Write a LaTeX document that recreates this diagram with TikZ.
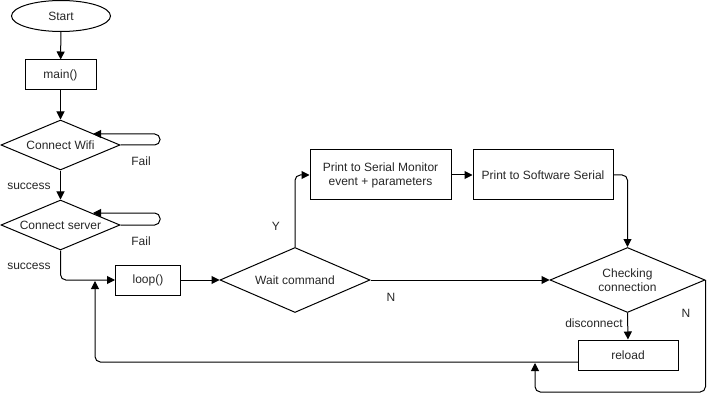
\documentclass[tikz,border=0pt]{standalone}
\usepackage{fontspec}
\setmainfont{Liberation Sans}
\usetikzlibrary{shapes.geometric,arrows.meta}
\begin{document}
\begin{tikzpicture}[x=0.75pt,y=-0.75pt,
  font=\fontsize{9}{10.5}\selectfont, text=black!85,
  every path/.style={line width=0.75pt},
  box/.style={draw, rectangle, inner sep=0pt, align=center},
  dec/.style={draw, diamond, inner sep=0pt, align=center},
  arr/.style={-{Triangle[length=6pt,width=6pt]}},
  rc/.style={rounded corners=4pt},
  lbl/.style={inner sep=0pt, align=center}]
\useasboundingbox (0,0) rectangle (715,410);

\node[draw, ellipse, inner sep=0pt, minimum width=99*0.75pt, minimum height=31*0.75pt] (start) at (61,16) {Start};
\node[box, minimum width=71*0.75pt, minimum height=30*0.75pt] (main) at (60.5,75) {main()};
\node[dec, minimum width=119*0.75pt, minimum height=50*0.75pt] (wifi) at (60.5,145) {};
\node[lbl] at (wifi.center) {Connect Wifi};
\node[dec, minimum width=119*0.75pt, minimum height=50*0.75pt] (server) at (60.5,225) {};
\node[lbl] at (server.center) {Connect server};
\node[box, minimum width=65*0.75pt, minimum height=30*0.75pt] (loop) at (148,280) {loop()};
\node[dec, minimum width=150*0.75pt, minimum height=65*0.75pt] (wait) at (295,280) {};
\node[lbl] at (wait.center) {Wait command};
\node[box, minimum width=141*0.75pt, minimum height=50*0.75pt] (psm) at (380.5,175) {Print to Serial Monitor\\event + parameters};
\node[box, minimum width=140*0.75pt, minimum height=50*0.75pt] (pss) at (543,175) {Print to Software Serial};
\node[dec, minimum width=155*0.75pt, minimum height=65*0.75pt] (check) at (627.5,280) {};
\node[lbl] at (check.center) {Checking\\connection};
\node[box, minimum width=100*0.75pt, minimum height=30*0.75pt] (reload) at (628,355) {reload};

\coordinate (wl) at (93,134);
\coordinate (sl) at (93,213);
\coordinate (ret) at (578,362);
\coordinate (lp) at (95,281);
\coordinate (rl) at (535,363);

\draw[arr] (start) -- (main);
\draw[arr] (main) -- (wifi);
\draw[arr] (wifi) -- (server);
\draw[arr, rc] (wifi.east) -- (160,145) -- (160,134) -- (wl);
\draw[arr, rc] (server.east) -- (160,225) -- (160,213) -- (sl);
\draw[arr, rc] (server.south) |- (loop.west);
\draw[arr] (loop) -- (wait);
\draw[arr, rc] (wait.north) |- (psm.west);
\draw[arr] (psm) -- (pss);
\draw[arr, rc] (pss.east) -| (check.north);
\draw[arr] (wait.east) -- (check.west);
\draw[arr] (check.south) -- (reload.north);
\draw[arr, rc] (check.east) |- (535,392) -- (rl);
\draw[arr, rc] (ret) -| (lp);

\node[lbl] at (141,161) {Fail};
\node[lbl] at (141,241) {Fail};
\node[lbl] at (29,186) {success};
\node[lbl] at (29,266) {success};
\node[lbl] at (276,226) {Y};
\node[lbl] at (391,297) {N};
\node[lbl] at (594,323) {disconnect};
\node[lbl] at (686,313) {N};
\end{tikzpicture}
\end{document}
